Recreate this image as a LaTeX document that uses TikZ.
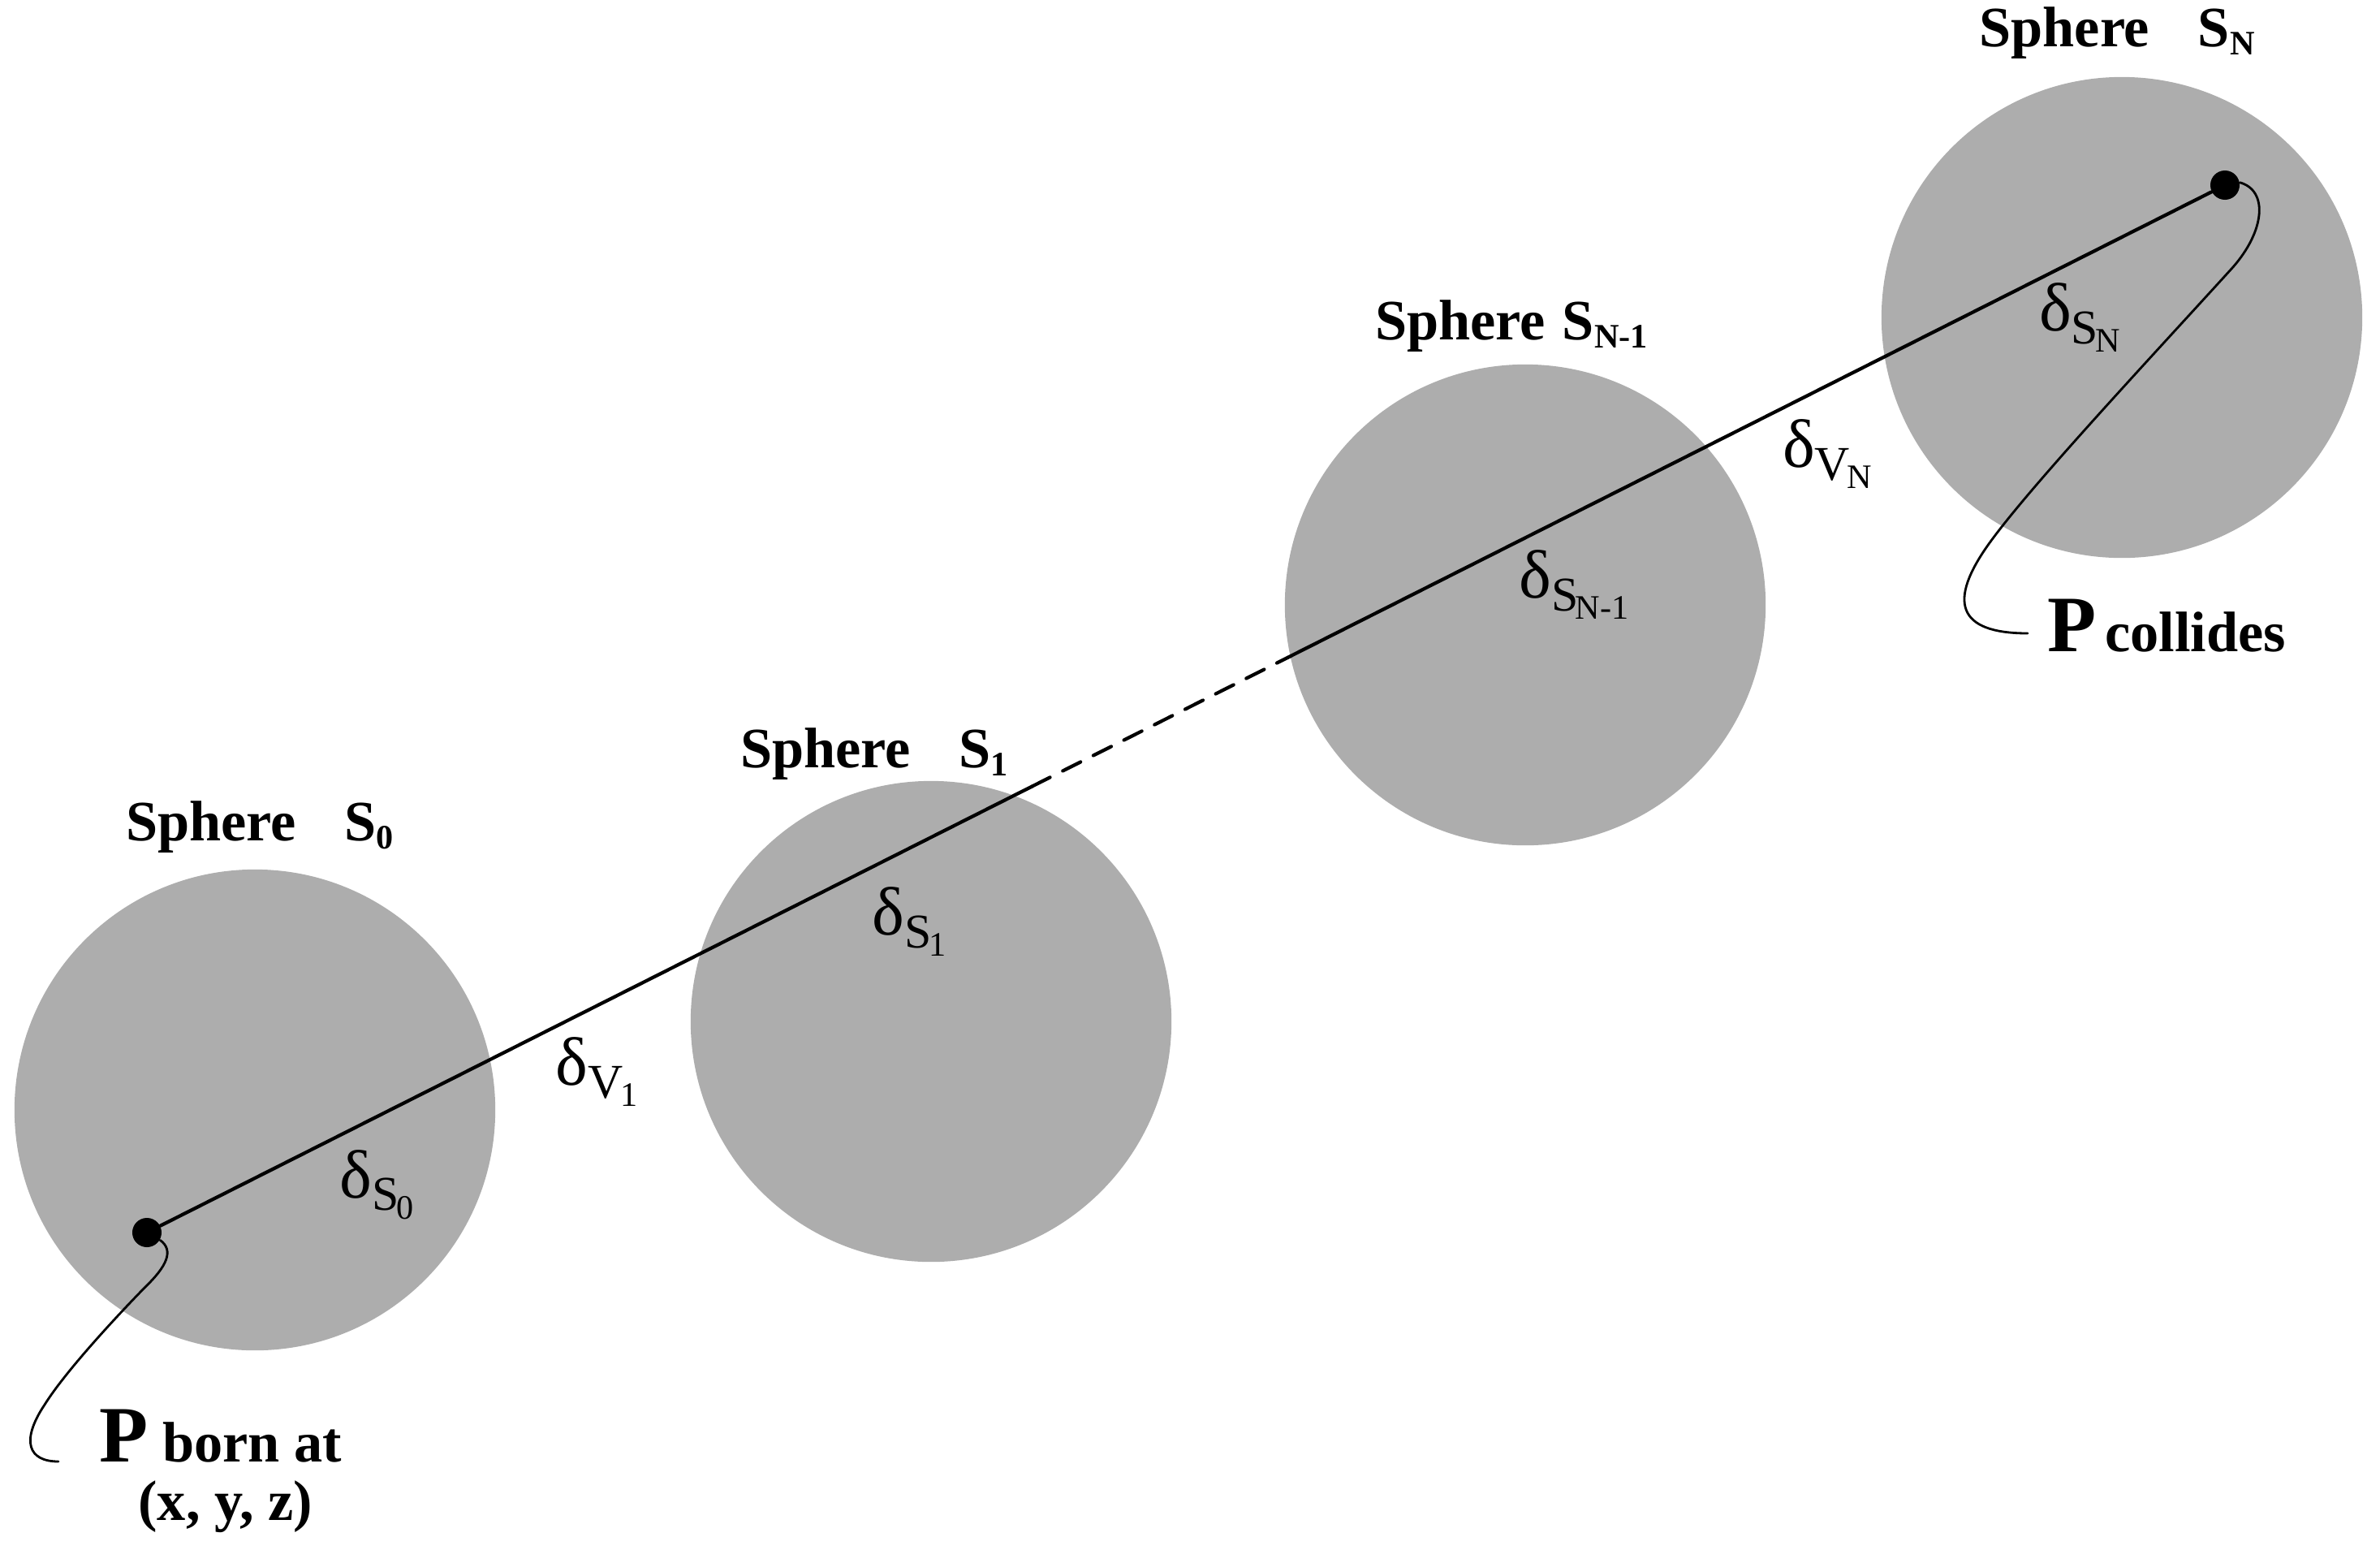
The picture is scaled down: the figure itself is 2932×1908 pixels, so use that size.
\documentclass[tikz,border=0pt]{standalone}
\usepackage{fontspec}
\setmainfont{Liberation Serif}
\usetikzlibrary{calc}
\definecolor{spheregray}{gray}{0.68}
% lowered subscripts, as printed
\newcommand{\ssub}[1]{\raisebox{-3pt}{\fontsize{12}{12}\selectfont #1}}
\newcommand{\dlab}[2]{{\fontsize{24}{24}\selectfont δ}\raisebox{-4.5pt}{\fontsize{17}{17}\selectfont #1\kern-1pt\raisebox{-3pt}{\fontsize{12}{12}\selectfont #2}}}
\begin{document}
\begin{tikzpicture}[x=0.01cm, y=-0.01cm, line join=round, line cap=round,
    sphere/.style={circle, fill=spheregray, minimum size=5.92cm, inner sep=0pt},
    pdot/.style={circle, fill=black, minimum size=0.36cm, inner sep=0pt},
    sphlab/.style={font=\bfseries\fontsize{20}{20}\selectfont, anchor=base, inner sep=0pt},
    dellab/.style={inner sep=0pt},
    path/.style={line width=1.2pt},
    lead/.style={line width=0.8pt}]
    \useasboundingbox (0,0) rectangle (2932,1908);
    \foreach \nm/\x/\y in {s0/314/1367, s1/1147/1258, sn1/1879/745, sn/2614/391} {
        \node[sphere] (\nm) at (\x,\y) {};
    }
    \node[sphlab] (l0) at (320,1035) {Sphere\hspace{0.85em}S\ssub{0}};
    \node[sphlab] (l1) at (1077,945) {Sphere\hspace{0.85em}S\ssub{1}};
    \node[sphlab] (ln1) at (1862,418) {Sphere\hspace{0.3em}S\ssub{N-1}};
    \node[sphlab] (ln) at (2608,57) {Sphere\hspace{0.85em}S\ssub{N}};
    % particle track
    \node[pdot] (p0) at (181,1518) {};
    \node[pdot] (pn) at (2741,228) {};
    \coordinate (d1) at ($(p0)!0.426!(pn)$);
    \coordinate (d2) at ($(p0)!0.549!(pn)$);
    \draw[path] (p0) -- (d1);
    \draw[path, dash pattern=on 7pt off 5pt] (d1) -- (d2);
    \draw[path] (d2) -- (pn);
    \node[dellab] (ds0) at (464,1459) {\dlab{S}{0}};
    \node[dellab] (dv1) at (735,1320) {\dlab{V}{1}};
    \node[dellab] (ds1) at (1120,1135) {\dlab{S}{1}};
    \node[dellab] (dsn1) at (1939,720) {\dlab{S}{N-1}};
    \node[dellab] (dvn) at (2251,559) {\dlab{V}{N}};
    \node[dellab] (dsn) at (2562,391) {\dlab{S}{N}};
    % birth and collision
    \node[sphlab, anchor=base west] (born) at (122,1800) {{\fontsize{28}{28}\selectfont P}\kern5pt born at};
    \node[sphlab] (bornxyz) at (278,1872) {(x, y, z)};
    \node[sphlab, anchor=base west] (coll) at (2522,802) {{\fontsize{28}{28}\selectfont P}\kern3pt collides};
    \coordinate (bornend) at (72,1800);
    \coordinate (collend) at (2498,780);
    \draw[lead] (p0.-30) .. controls (215,1540) and (205,1560) .. (179,1585)
        .. controls (140,1625) and (80,1690) .. (55,1730)
        .. controls (25,1775) and (35,1800) .. (bornend);
    \draw[lead] (pn.10) .. controls (2795,235) and (2790,285) .. (2750,330)
        .. controls (2650,440) and (2500,600) .. (2450,670)
        .. controls (2400,740) and (2410,780) .. (collend);
\end{tikzpicture}
\end{document}
